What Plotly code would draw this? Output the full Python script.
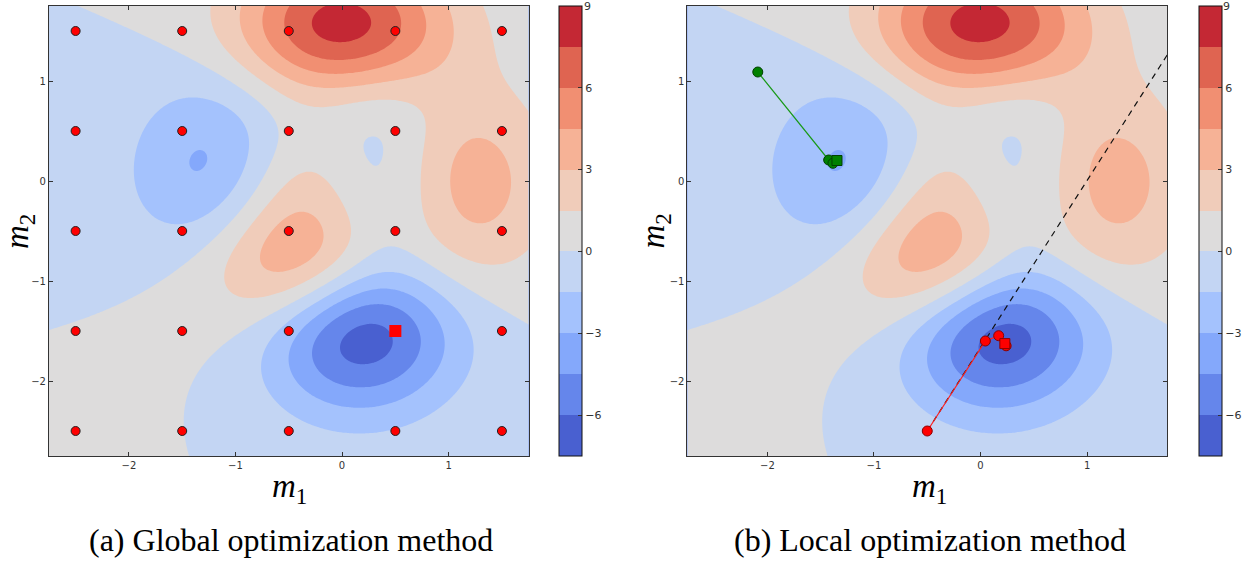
import numpy as np
import plotly.graph_objects as go

# ---- data -------------------------------------------------------------
# surface: MATLAB "peaks" test function sampled on a grid
grid_x = np.linspace(-2.75, 1.75, 226)
grid_y = np.linspace(-2.75, 1.75, 226)
GX, GY = np.meshgrid(grid_x, grid_y)
Z = (3 * (1 - GX) ** 2 * np.exp(-GX ** 2 - (GY + 1) ** 2)
     - 10 * (GX / 5 - GX ** 3 - GY ** 5) * np.exp(-GX ** 2 - GY ** 2)
     - 1.0 / 3 * np.exp(-(GX + 1) ** 2 - GY ** 2))

level_start, level_end, level_size = -6.0, 7.5, 1.5
cbar_tickvals = [-6, -3, 0, 3, 6]
cbar_ticktext = ["\u22126", "\u22123", "0", "3", "6"]
cbar_top_label = "9"
axis_ticks = [-2, -1, 0, 1]

# global method: grid samples and best sample
global_x = [-2.5, -1.5, -0.5, 0.5, 1.5]
global_y = [1.5, 0.5, -0.5, -1.5, -2.5]
global_best = (0.5, -1.5)

# local method: two runs
green_path_x = [-2.09, -1.425, -1.385, -1.347]
green_path_y = [1.09, 0.21, 0.177, 0.205]
red_path_x = [-0.5, 0.045, 0.17, 0.24, 0.228]
red_path_y = [-2.5, -1.60, -1.547, -1.648, -1.626]
search_line_x = [-0.5, 2.2]
search_line_y = [-2.5, 2.01]

# band colours (coolwarm sampled at band midpoints)
colors = ["#4960d0", "#6586eb", "#84a8fb", "#a4c2fd", "#c3d5f3", "#dddcdc",
          "#f0ccba", "#f6b296", "#f18f72", "#df6451", "#c42834"]

# stepwise colorscale
n = len(colors)
cscale = []
for i, c in enumerate(colors):
    cscale.append([i / n, c])
    cscale.append([(i + 1) / n, c])

W, H = 1245, 563
ytop, ybot = 6, 456
dom_y = [1 - ybot / H, 1 - ytop / H]
dom_x1 = [49 / W, 529 / W]
dom_x2 = [688 / W, 1168 / W]
cbar_left = [559, 1199]
cbar_w = 23

fig = go.Figure()


def add_contour(xa, ya, cbx):
    fig.add_trace(go.Contour(
        x=grid_x, y=grid_y, z=Z, xaxis=xa, yaxis=ya,
        colorscale=cscale, zmin=-7.5, zmax=9, zauto=False,
        contours=dict(start=level_start, end=level_end, size=level_size,
                      coloring="fill", showlines=False),
        line=dict(width=0), autocontour=False, hoverinfo="skip",
        colorbar=dict(x=cbx / W, xanchor="left", xpad=0, xref="paper",
                      y=dom_y[0], yanchor="bottom", ypad=0,
                      len=dom_y[1] - dom_y[0], lenmode="fraction",
                      thickness=cbar_w, thicknessmode="pixels",
                      outlinewidth=1, outlinecolor="#111",
                      tickvals=cbar_tickvals, ticktext=cbar_ticktext,
                      ticks="inside", ticklen=4,
                      tickcolor="#333", tickwidth=1,
                      tickfont=dict(family="DejaVu Sans", size=11, color="#333")),
    ))


add_contour("x", "y", cbar_left[0])
add_contour("x2", "y2", cbar_left[1])

# global grid points
gx = [x for y in global_y for x in global_x]
gy = [y for y in global_y for x in global_x]
fig.add_trace(go.Scatter(x=gx, y=gy, mode="markers", xaxis="x", yaxis="y",
                         marker=dict(symbol="circle", size=9, color="#ff0000",
                                     line=dict(color="#222", width=1)),
                         hoverinfo="skip"))
fig.add_trace(go.Scatter(x=[global_best[0]], y=[global_best[1]], mode="markers",
                         xaxis="x", yaxis="y",
                         marker=dict(symbol="square", size=12, color="#ff0000",
                                     line=dict(color="#ff0000", width=0)),
                         hoverinfo="skip"))

# local: dashed search line
fig.add_trace(go.Scatter(x=search_line_x, y=search_line_y, mode="lines",
                         xaxis="x2", yaxis="y2",
                         line=dict(color="#111", width=1.2, dash="6px,5px"),
                         hoverinfo="skip"))
# green path
fig.add_trace(go.Scatter(x=green_path_x, y=green_path_y, mode="lines",
                         xaxis="x2", yaxis="y2",
                         line=dict(color="#1a9a1a", width=1.2), hoverinfo="skip"))
fig.add_trace(go.Scatter(x=green_path_x[:-1], y=green_path_y[:-1], mode="markers",
                         xaxis="x2", yaxis="y2",
                         marker=dict(symbol="circle", size=10, color="#008000",
                                     line=dict(color="#004000", width=1)),
                         hoverinfo="skip"))
fig.add_trace(go.Scatter(x=green_path_x[-1:], y=green_path_y[-1:], mode="markers",
                         xaxis="x2", yaxis="y2",
                         marker=dict(symbol="square", size=10, color="#008000",
                                     line=dict(color="#004000", width=1)),
                         hoverinfo="skip"))
# red path
fig.add_trace(go.Scatter(x=red_path_x, y=red_path_y, mode="lines",
                         xaxis="x2", yaxis="y2",
                         line=dict(color="#ff2020", width=1.2), hoverinfo="skip"))
fig.add_trace(go.Scatter(x=red_path_x[:-1], y=red_path_y[:-1], mode="markers",
                         xaxis="x2", yaxis="y2",
                         marker=dict(symbol="circle", size=10, color="#ff0000",
                                     line=dict(color="#8b0000", width=1)),
                         hoverinfo="skip"))
fig.add_trace(go.Scatter(x=red_path_x[-1:], y=red_path_y[-1:], mode="markers",
                         xaxis="x2", yaxis="y2",
                         marker=dict(symbol="square", size=10, color="#ff0000",
                                     line=dict(color="#8b0000", width=1)),
                         hoverinfo="skip"))

axis_common = dict(range=[-2.75, 1.75], showgrid=False, zeroline=False,
                   showline=True, linecolor="#333", linewidth=1, mirror="allticks",
                   ticks="inside", ticklen=4, tickcolor="#333", tickwidth=1,
                   tickvals=axis_ticks,
                   tickfont=dict(family="DejaVu Sans", size=10, color="#333"))

fig.update_layout(
    width=W, height=H, margin=dict(l=0, r=0, t=0, b=0),
    paper_bgcolor="white", plot_bgcolor="white", showlegend=False,
    xaxis=dict(domain=dom_x1, anchor="y", **axis_common),
    yaxis=dict(domain=dom_y, anchor="x", **axis_common),
    xaxis2=dict(domain=dom_x2, anchor="y2", **axis_common),
    yaxis2=dict(domain=dom_y, anchor="x2", **axis_common),
)

serif = "Liberation Serif"
ann = []
for cx, px_lbl, cap, cbl in [(290, 19, "(a) Global optimization method", cbar_left[0]),
                             (930, 656, "(b) Local optimization method", cbar_left[1])]:
    ann.append(dict(x=cx / W, y=1 - 488 / H, xref="paper", yref="paper",
                    text="<i>m</i><sub>1</sub>", showarrow=False,
                    font=dict(family=serif, size=33, color="black"),
                    xanchor="center", yanchor="middle"))
    ann.append(dict(x=px_lbl / W, y=1 - 231 / H, xref="paper", yref="paper",
                    text="<i>m</i><sub>2</sub>", showarrow=False, textangle=-90,
                    font=dict(family=serif, size=33, color="black"),
                    xanchor="center", yanchor="middle"))
    ann.append(dict(x=(cx + 1) / W, y=1 - 540 / H, xref="paper", yref="paper",
                    text=cap, showarrow=False,
                    font=dict(family=serif, size=32, color="black"),
                    xanchor="center", yanchor="middle"))
    ann.append(dict(x=(cbl + cbar_w + 3) / W, y=1 - 7 / H, xref="paper", yref="paper",
                    text=cbar_top_label, showarrow=False,
                    font=dict(family="DejaVu Sans", size=11, color="#333"),
                    xanchor="left", yanchor="middle", xshift=-3))
fig.update_layout(annotations=ann)

fig.write_html("out.html")
